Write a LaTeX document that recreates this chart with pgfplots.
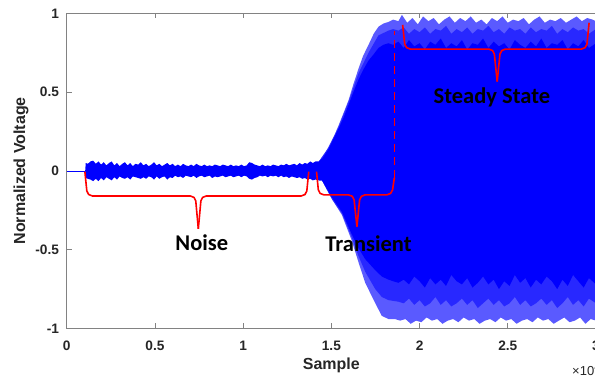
\documentclass[border=0pt]{standalone}
\usepackage{pgfplots}
\pgfplotsset{compat=1.18}
\usepackage{fontspec}
\setmainfont{Liberation Sans}
\newfontfamily\calib{Carlito}
\definecolor{axgray}{RGB}{130,130,130}
\definecolor{tickfg}{RGB}{38,38,38}
\definecolor{sigblue}{RGB}{0,0,255}
\definecolor{midblue}{RGB}{40,40,255}
\definecolor{lightblue}{RGB}{90,90,255}
\definecolor{bracered}{RGB}{255,0,0}
\begin{document}
\begin{tikzpicture}
\begin{axis}[
  scale only axis, width=529.3pt, height=315.2pt,
  xmin=0, xmax=30000, ymin=-1, ymax=1,
  scaled x ticks=false,
  xtick={0,5000,10000,15000,20000,25000,30000},
  xticklabels={0,0.5,1,1.5,2,2.5,3},
  ytick={-1,-0.5,0,0.5,1},
  yticklabels={-1,-0.5,0,0.5,1},
  tick align=inside, major tick length=5pt,
  axis line style={draw=axgray, line width=0.8pt},
  tick style={draw=axgray, line width=0.8pt},
  ticklabel style={font=\fontsize{13.7}{16}\selectfont\bfseries, text=tickfg, inner sep=0pt},
  xticklabel style={anchor=base, yshift=-21.5pt},
  yticklabel style={anchor=east, xshift=-7.5pt},
  xlabel={Sample}, ylabel={Normalized Voltage},
  label style={font=\fontsize{16}{18}\selectfont\bfseries, text=tickfg},
  xlabel style={at={(axis description cs:0.5,-0.1285)}, anchor=base, inner sep=0pt},
  ylabel style={at={(axis description cs:-0.0863,0.5)}, anchor=center, inner sep=0pt},
]
% outer (light fringe) envelope: transient + steady state
\addplot[fill=lightblue, draw=none] coordinates {
(14290,0.06)(14500,0.08)(14850,0.155)(15150,0.22)(15415,0.29)(15700,0.37)(15979,0.45)(16250,0.55)(16543,0.65)(16800,0.73)(17107,0.80)(17400,0.87)(17671,0.915)(17950,0.935)(18235,0.945)(18500,0.96)
(18800,0.95)(19000,0.99)(19300,0.94)(19600,0.97)(19900,0.93)(20200,0.98)(20500,0.95)(20800,0.97)(21100,0.93)(21400,0.96)(21700,0.98)(22000,0.94)(22300,0.97)(22600,0.95)(22900,0.98)(23200,0.94)(23500,0.96)(23800,0.93)(24100,0.97)(24400,0.95)(24700,0.98)(25000,0.94)(25300,0.96)(25600,0.95)(25900,0.97)(26200,0.93)(26500,0.96)(26800,0.98)(27100,0.94)(27400,0.96)(27700,0.95)(28000,0.97)(28300,0.94)(28600,0.96)(28900,0.98)(29200,0.95)(29500,0.97)(29800,0.96)(30000,0.95)
(30000,-0.95)(29700,-0.94)(29400,-0.97)(29100,-0.93)(28800,-0.95)(28500,-0.96)(28200,-0.93)(27900,-0.95)(27600,-0.97)(27300,-0.94)(27000,-0.95)(26700,-0.93)(26400,-0.96)(26100,-0.94)(25800,-0.95)(25500,-0.97)(25200,-0.94)(24900,-0.95)(24600,-0.93)(24300,-0.96)(24000,-0.94)(23700,-0.95)(23400,-0.97)(23100,-0.94)(22800,-0.95)(22500,-0.93)(22200,-0.96)(21900,-0.94)(21600,-0.95)(21300,-0.97)(21000,-0.94)(20700,-0.95)(20400,-0.93)(20100,-0.96)(19800,-0.95)(19500,-0.97)(19200,-0.94)(18900,-0.95)(18600,-0.94)
(18240,-0.94)(17860,-0.92)(17490,-0.84)(16920,-0.71)(16540,-0.58)(16150,-0.44)(15600,-0.28)(15040,-0.18)(14470,-0.06)(14290,-0.06)
};
% middle envelope
\addplot[fill=midblue, draw=none] coordinates {
(14290,0.06)(14850,0.15)(15415,0.28)(15979,0.44)(16543,0.62)(17107,0.75)(17671,0.86)(18235,0.89)(18500,0.90)(18800,0.89)(19100,0.91)(19400,0.87)(19700,0.90)(20000,0.88)(20300,0.91)(20600,0.87)(20900,0.90)(21200,0.89)(21500,0.92)(21800,0.87)(22100,0.90)(22400,0.88)(22700,0.91)(23000,0.87)(23300,0.90)(23600,0.89)(23900,0.92)(24200,0.88)(24500,0.90)(24800,0.87)(25100,0.91)(25400,0.89)(25700,0.90)(26000,0.87)(26300,0.91)(26600,0.88)(26900,0.90)(27200,0.89)(27500,0.92)(27800,0.87)(28100,0.90)(28400,0.88)(28700,0.91)(29000,0.89)(29300,0.90)(29600,0.87)(30000,0.90)
(30000,-0.84)(29600,-0.81)(29300,-0.86)(29000,-0.82)(28700,-0.85)(28400,-0.80)(28100,-0.84)(27800,-0.87)(27500,-0.82)(27200,-0.85)(26900,-0.81)(26600,-0.84)(26300,-0.86)(26000,-0.82)(25700,-0.85)(25400,-0.80)(25100,-0.84)(24800,-0.86)(24500,-0.82)(24200,-0.85)(23900,-0.81)(23600,-0.84)(23300,-0.87)(23000,-0.82)(22700,-0.85)(22400,-0.81)(22100,-0.84)(21800,-0.86)(21500,-0.82)(21200,-0.85)(20900,-0.80)(20600,-0.84)(20300,-0.86)(20000,-0.82)(19700,-0.85)(19400,-0.81)(19100,-0.84)(18800,-0.83)(18240,-0.82)(17860,-0.80)(17490,-0.75)(16920,-0.64)(16540,-0.54)(16150,-0.42)(15600,-0.27)(15040,-0.18)(14470,-0.06)(14290,-0.06)
};
% solid signal: noise envelope + inner envelope
\addplot[fill=sigblue, draw=none] coordinates {
(1050,0.003)(1080,0.05)(1200,0.045)(1350,0.06)(1500,0.065)(1650,0.045)(1800,0.06)(1950,0.04)(2100,0.055)(2250,0.035)(2400,0.05)(2550,0.06)(2700,0.035)(2850,0.05)(3000,0.03)(3150,0.045)(3300,0.055)(3450,0.035)(3600,0.05)(3750,0.03)(3900,0.045)(4050,0.04)(4200,0.055)(4350,0.035)(4500,0.045)(4650,0.03)(4800,0.04)(4950,0.055)(5100,0.035)(5250,0.045)(5400,0.03)(5550,0.04)(5700,0.05)(5850,0.035)(6000,0.045)(6150,0.03)(6300,0.04)(6450,0.03)(6600,0.045)(6750,0.035)(6900,0.03)(7050,0.04)(7200,0.03)(7350,0.045)(7500,0.035)(7650,0.03)(7800,0.04)(7950,0.03)(8100,0.035)(8250,0.03)(8400,0.04)(8550,0.035)(8700,0.03)(8850,0.04)(9000,0.035)(9150,0.03)(9300,0.04)(9450,0.03)(9600,0.035)(9750,0.03)(9900,0.04)(10050,0.03)(10200,0.035)(10350,0.055)(10500,0.05)(10650,0.04)(10800,0.035)(10950,0.03)(11100,0.04)(11250,0.03)(11400,0.035)(11550,0.03)(11700,0.04)(11850,0.035)(12000,0.03)(12150,0.04)(12300,0.035)(12450,0.045)(12600,0.035)(12750,0.04)(12900,0.045)(13050,0.035)(13200,0.05)(13350,0.04)(13500,0.05)(13650,0.045)(13800,0.06)(13950,0.05)(14100,0.06)(14290,0.06)
(14500,0.08)(14850,0.14)(15150,0.21)(15415,0.27)(15700,0.34)(15979,0.42)(16250,0.50)(16543,0.58)(16800,0.64)(17107,0.70)(17400,0.74)(17671,0.78)(17950,0.80)(18235,0.81)(18500,0.80)(18800,0.82)(19100,0.78)(19400,0.83)(19700,0.79)(20000,0.81)(20300,0.77)(20600,0.82)(20900,0.80)(21200,0.84)(21500,0.78)(21800,0.81)(22100,0.79)(22400,0.83)(22700,0.77)(23000,0.81)(23300,0.80)(23600,0.84)(23900,0.78)(24200,0.82)(24500,0.79)(24800,0.81)(25100,0.77)(25400,0.83)(25700,0.80)(26000,0.78)(26300,0.82)(26600,0.79)(26900,0.84)(27200,0.78)(27500,0.81)(27800,0.80)(28100,0.83)(28400,0.77)(28700,0.81)(29000,0.79)(29300,0.83)(29600,0.78)(30000,0.81)
(30000,-0.72)(29600,-0.68)(29300,-0.74)(29000,-0.70)(28700,-0.66)(28400,-0.73)(28100,-0.69)(27800,-0.75)(27500,-0.70)(27200,-0.67)(26900,-0.72)(26600,-0.69)(26300,-0.74)(26000,-0.68)(25700,-0.71)(25400,-0.66)(25100,-0.73)(24800,-0.70)(24500,-0.75)(24200,-0.69)(23900,-0.72)(23600,-0.67)(23300,-0.71)(23000,-0.74)(22700,-0.68)(22400,-0.72)(22100,-0.70)(21800,-0.66)(21500,-0.73)(21200,-0.69)(20900,-0.72)(20600,-0.68)(20300,-0.74)(20000,-0.70)(19700,-0.67)(19400,-0.72)(19100,-0.69)(18800,-0.71)(18500,-0.70)(18240,-0.69)(17860,-0.67)(17490,-0.63)(16920,-0.56)(16540,-0.49)(16150,-0.40)(15600,-0.26)(15040,-0.17)(14470,-0.06)(14290,-0.06)
(14100,-0.055)(13950,-0.06)(13800,-0.05)(13650,-0.055)(13500,-0.045)(13350,-0.05)(13200,-0.04)(13050,-0.045)(12900,-0.04)(12750,-0.035)(12600,-0.045)(12450,-0.035)(12300,-0.04)(12150,-0.03)(12000,-0.04)(11850,-0.03)(11700,-0.035)(11550,-0.03)(11400,-0.04)(11250,-0.03)(11100,-0.035)(10950,-0.03)(10800,-0.04)(10650,-0.045)(10500,-0.055)(10350,-0.05)(10200,-0.035)(10050,-0.03)(9900,-0.04)(9750,-0.03)(9600,-0.035)(9450,-0.04)(9300,-0.03)(9150,-0.035)(9000,-0.04)(8850,-0.03)(8700,-0.035)(8550,-0.04)(8400,-0.035)(8250,-0.045)(8100,-0.03)(7950,-0.035)(7800,-0.04)(7650,-0.03)(7500,-0.035)(7350,-0.045)(7200,-0.03)(7050,-0.04)(6900,-0.035)(6750,-0.03)(6600,-0.045)(6450,-0.035)(6300,-0.04)(6150,-0.03)(6000,-0.045)(5850,-0.04)(5700,-0.055)(5550,-0.035)(5400,-0.04)(5250,-0.05)(5100,-0.035)(4950,-0.055)(4800,-0.04)(4650,-0.035)(4500,-0.05)(4350,-0.04)(4200,-0.05)(4050,-0.045)(3900,-0.04)(3750,-0.035)(3600,-0.055)(3450,-0.04)(3300,-0.05)(3150,-0.045)(3000,-0.035)(2850,-0.055)(2700,-0.04)(2550,-0.06)(2400,-0.05)(2250,-0.04)(2100,-0.06)(1950,-0.045)(1800,-0.065)(1650,-0.05)(1500,-0.065)(1350,-0.055)(1200,-0.05)(1080,-0.045)(1050,-0.003)
};
% quiet start of the record
\addplot[sigblue, line width=0.8pt] coordinates {(0,0)(1060,0)};
% braces and marker
\draw[bracered, line width=1.6pt, rounded corners=5pt] (axis cs:1030,-0.005) -- (axis cs:1170,-0.159) -- (axis cs:7290,-0.159) -- (axis cs:7460,-0.368);
\draw[bracered, line width=1.6pt, rounded corners=5pt] (axis cs:7460,-0.368) -- (axis cs:7630,-0.159) -- (axis cs:13580,-0.159) -- (axis cs:13720,-0.005);
\draw[bracered, line width=1.6pt, rounded corners=5pt] (axis cs:14160,-0.005) -- (axis cs:14290,-0.152) -- (axis cs:16260,-0.152) -- (axis cs:16450,-0.354);
\draw[bracered, line width=1.6pt, rounded corners=5pt] (axis cs:16450,-0.354) -- (axis cs:16630,-0.152) -- (axis cs:18430,-0.152) -- (axis cs:18570,-0.044);
\draw[bracered, line width=1.6pt, dash pattern=on 8pt off 5pt] (axis cs:18570,-0.044) -- (axis cs:18570,0.889);
\draw[bracered, line width=1.6pt, rounded corners=5pt] (axis cs:19040,0.927) -- (axis cs:19190,0.773) -- (axis cs:24210,0.773) -- (axis cs:24400,0.567);
\draw[bracered, line width=1.6pt, rounded corners=5pt] (axis cs:24400,0.567) -- (axis cs:24585,0.773) -- (axis cs:29460,0.773) -- (axis cs:29610,0.94);
\node[anchor=base, font=\calib\bfseries\fontsize{22.5}{26}\selectfont, inner sep=0pt] at (axis cs:7660,-0.508) {Noise};
\node[anchor=base, font=\calib\bfseries\fontsize{22.5}{26}\selectfont, inner sep=0pt] at (axis cs:17106,-0.512) {Transient};
\node[anchor=base, font=\calib\bfseries\fontsize{22.5}{26}\selectfont, inner sep=0pt] at (axis cs:24100,0.425) {Steady State};
\end{axis}
\node[anchor=base west, inner sep=0pt, font=\fontsize{13}{15}\selectfont, text=tickfg] at ([xshift=-24pt,yshift=-46.5pt]current axis.south east) {×10\textsuperscript{4}};
\pgfresetboundingbox
\path[use as bounding box] ([xshift=-66.7pt,yshift=-49.5pt]current axis.south west) rectangle ([xshift=-1pt,yshift=13.3pt]current axis.north east);
\end{tikzpicture}
\end{document}
